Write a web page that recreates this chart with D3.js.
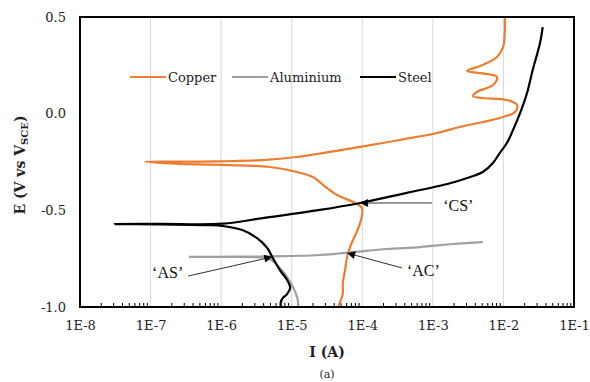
<!DOCTYPE html>
<html>
<head>
<meta charset="utf-8">
<script src="https://cdn.jsdelivr.net/npm/d3@7"></script>
<style>
  body { margin: 0; background: #fff; }
  svg { display: block; }
</style>
</head>
<body>
<svg id="chart" width="590" height="382"></svg>
<script>
// polarisation curves, [I (A), E (V vs SCE)]
var copper = [
  [4.5e-5, -1.0], [4.8e-5, -0.979], [5.3e-5, -0.928], [5.3e-5, -0.876], [5.7e-5, -0.809],
  [6.1e-5, -0.741], [6.7e-5, -0.690], [7.4e-5, -0.653], [9.3e-5, -0.566], [9.9e-5, -0.488],
  [7.4e-5, -0.457], [4.4e-5, -0.421], [2.8e-5, -0.369], [2.0e-5, -0.328], [1.2e-5, -0.302],
  [4.9e-6, -0.276], [1.34e-6, -0.266], [2.6e-7, -0.260], [8.3e-8, -0.248], [4.5e-7, -0.248],
  [3.9e-6, -0.240], [1.2e-5, -0.224], [3.5e-5, -0.198], [9.3e-5, -0.172], [3.4e-4, -0.136],
  [1.15e-3, -0.100], [2.4e-3, -0.069], [5.1e-3, -0.043], [9.9e-3, -0.017], [1.46e-2, 0.009],
  [1.56e-2, 0.045], [1.12e-2, 0.071], [5.1e-3, 0.081], [3.7e-3, 0.090], [4.2e-3, 0.112],
  [7.1e-3, 0.148], [8.1e-3, 0.190], [4.7e-3, 0.210], [3.05e-3, 0.221], [5.1e-3, 0.252],
  [8.1e-3, 0.293], [9.9e-3, 0.345], [1.05e-2, 0.440], [1.05e-2, 0.5]
];
var aluminium = [
  [1.23e-5, -1.0], [1.23e-5, -0.979], [1.19e-5, -0.948], [1.04e-5, -0.897], [8.6e-6, -0.845],
  [6.8e-6, -0.798], [4.9e-6, -0.752], [3.9e-6, -0.744], [8.7e-7, -0.741], [3.6e-7, -0.741],
  [8.7e-7, -0.740], [3.9e-6, -0.739], [2.5e-5, -0.731], [7.4e-5, -0.716], [2.24e-4, -0.700],
  [6.6e-4, -0.690], [1.93e-3, -0.674], [5.1e-3, -0.664]
];
var steel = [
  [7.0e-6, -1.0], [7.0e-6, -0.974], [7.5e-6, -0.953], [8.6e-6, -0.933], [9.5e-6, -0.902],
  [8.6e-6, -0.860], [6.8e-6, -0.809], [5.4e-6, -0.747], [4.5e-6, -0.695], [3.2e-6, -0.643],
  [2.0e-6, -0.602], [1.06e-6, -0.581], [6.3e-7, -0.576], [1.36e-7, -0.573], [3.1e-8, -0.571],
  [1.36e-7, -0.570], [1.06e-6, -0.569], [3.9e-6, -0.540], [2.5e-5, -0.498], [9.3e-5, -0.462],
  [6.6e-4, -0.395], [1.6e-3, -0.364], [3.4e-3, -0.328], [5.1e-3, -0.302], [7.1e-3, -0.255],
  [8.9e-3, -0.203], [1.12e-2, -0.152], [1.37e-2, -0.084], [1.72e-2, 0.003], [2.16e-2, 0.107],
  [2.6e-2, 0.226], [3.3e-2, 0.366], [3.6e-2, 0.448]
];

var seriesNames = ["Copper", "Aluminium", "Steel"];
var seriesColors = ["#ed7d31", "#a0a0a0", "#000000"];

var xTickValues = [1e-8, 1e-7, 1e-6, 1e-5, 1e-4, 1e-3, 1e-2, 1e-1];
var xTickLabels = ["1E-8", "1E-7", "1E-6", "1E-5", "1E-4", "1E-3", "1E-2", "1E-1"];
var yTickValues = [0.5, 0.0, -0.5, -1.0];
var yTickLabels = ["0.5", "0.0", "-0.5", "-1.0"];

// crossing points marked on the figure: tip, tail of the arrow, label anchor
var notes = [
  { text: "\u2018CS\u2019", tip: [9.3e-5, -0.462], tail: [9.7e-4, -0.462], at: [1.4e-3, -0.505], anchor: "start" },
  { text: "\u2018AC\u2019", tip: [6.1e-5, -0.721], tail: [3.65e-4, -0.798], at: [4.3e-4, -0.838], anchor: "start" },
  { text: "\u2018AS\u2019", tip: [5.3e-6, -0.741], tail: [3.4e-7, -0.840], at: [2.9e-7, -0.852], anchor: "end" }
];

var margin = { top: 17, right: 16, bottom: 75, left: 80 };
var width = 590 - margin.left - margin.right;
var height = 382 - margin.top - margin.bottom;

var svg = d3.select("#chart");
var g = svg.append("g")
  .attr("transform", "translate(" + margin.left + "," + margin.top + ")");

var x = d3.scaleLog().domain([1e-8, 1e-1]).range([0, width]);
var y = d3.scaleLinear().domain([-1.0, 0.5]).range([height, 0]);

// vertical gridlines at each decade
g.append("g")
  .selectAll("line")
  .data(xTickValues.slice(1, -1))
  .enter().append("line")
  .attr("x1", d => x(d)).attr("x2", d => x(d))
  .attr("y1", 0).attr("y2", height)
  .attr("stroke", "#d9d9d9")
  .attr("stroke-width", 1);

// minor ticks 2..9 per decade, pointing up from the bottom axis
var minor = [];
for (var e = -8; e < -1; e++) {
  for (var m = 2; m <= 9; m++) minor.push(m * Math.pow(10, e));
}
g.append("g")
  .selectAll("line")
  .data(minor)
  .enter().append("line")
  .attr("x1", d => x(d)).attr("x2", d => x(d))
  .attr("y1", height).attr("y2", height - 4)
  .attr("stroke", "#000")
  .attr("stroke-width", 1);

g.append("defs").append("clipPath").attr("id", "clip")
  .append("rect").attr("width", width).attr("height", height);

var line = d3.line()
  .x(d => x(d[0]))
  .y(d => y(d[1]))
  .curve(d3.curveCatmullRom.alpha(0.5));

var plotG = g.append("g").attr("clip-path", "url(#clip)");
[copper, aluminium, steel].forEach(function(data, i) {
  plotG.append("path")
    .datum(data)
    .attr("fill", "none")
    .attr("stroke", seriesColors[i])
    .attr("stroke-width", 2.2)
    .attr("stroke-linejoin", "round")
    .attr("d", line);
});

// frame
g.append("rect")
  .attr("width", width).attr("height", height)
  .attr("fill", "none")
  .attr("stroke", "#000")
  .attr("stroke-width", 2);

// x axis labels
g.append("g")
  .attr("transform", "translate(0," + height + ")")
  .call(d3.axisBottom(x).tickValues(xTickValues)
    .tickFormat((d, i) => xTickLabels[i]).tickSize(0).tickPadding(14))
  .call(a => a.select(".domain").remove())
  .selectAll("text")
  .attr("font-family", "DejaVu Serif, serif")
  .attr("font-size", 13)
  .attr("fill", "#222");

// y axis labels
g.append("g")
  .call(d3.axisLeft(y).tickValues(yTickValues)
    .tickFormat((d, i) => yTickLabels[i]).tickSize(0).tickPadding(14))
  .call(a => a.select(".domain").remove())
  .selectAll("text")
  .attr("font-family", "DejaVu Serif, serif")
  .attr("font-size", 13)
  .attr("fill", "#222");

// axis titles
svg.append("text")
  .attr("x", 327).attr("y", 357)
  .attr("text-anchor", "middle")
  .attr("font-family", "DejaVu Serif, serif")
  .attr("font-weight", "bold")
  .attr("font-size", 14)
  .attr("fill", "#222")
  .text("I (A)");

svg.append("text")
  .attr("x", 327).attr("y", 378)
  .attr("text-anchor", "middle")
  .attr("font-family", "DejaVu Serif, serif")
  .attr("font-size", 11)
  .attr("fill", "#222")
  .text("(a)");

var yt = svg.append("text")
  .attr("transform", "translate(25,165) rotate(-90)")
  .attr("text-anchor", "middle")
  .attr("font-family", "DejaVu Serif, serif")
  .attr("font-weight", "bold")
  .attr("font-size", 14)
  .attr("fill", "#222");
yt.append("tspan").text("E (V vs V");
yt.append("tspan").attr("font-size", 10).attr("dy", 3).text("SCE");
yt.append("tspan").attr("dy", -3).text(")");

// legend
var legendX = [50, 152, 280];
var legend = g.append("g").attr("transform", "translate(0,60)");
seriesNames.forEach(function(name, i) {
  legend.append("line")
    .attr("x1", legendX[i]).attr("x2", legendX[i] + 36)
    .attr("y1", 0).attr("y2", 0)
    .attr("stroke", seriesColors[i])
    .attr("stroke-width", 2.2);
  legend.append("text")
    .attr("x", legendX[i] + 38).attr("y", 5)
    .attr("font-family", "DejaVu Serif, serif")
    .attr("font-size", 13)
    .attr("fill", "#222")
    .text(name);
});

// arrows
g.append("defs").append("marker")
  .attr("id", "head")
  .attr("viewBox", "0 0 10 10")
  .attr("refX", 10).attr("refY", 5)
  .attr("markerWidth", 10).attr("markerHeight", 8)
  .attr("markerUnits", "userSpaceOnUse")
  .attr("orient", "auto")
  .append("path").attr("d", "M0,0L10,5L0,10Z").attr("fill", "#000");

notes.forEach(function(n) {
  g.append("line")
    .attr("x1", x(n.tail[0])).attr("y1", y(n.tail[1]))
    .attr("x2", x(n.tip[0])).attr("y2", y(n.tip[1]))
    .attr("stroke", "#333")
    .attr("stroke-width", 1)
    .attr("marker-end", "url(#head)");
  g.append("text")
    .attr("x", x(n.at[0])).attr("y", y(n.at[1]))
    .attr("text-anchor", n.anchor)
    .attr("font-family", "Liberation Serif, serif")
    .attr("font-size", 16)
    .attr("fill", "#111")
    .text(n.text);
});
</script>
</body>
</html>
